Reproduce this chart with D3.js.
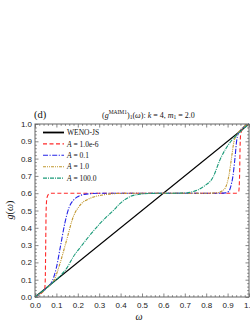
<!DOCTYPE html>
<html><head><meta charset="utf-8">
<script src="https://cdn.jsdelivr.net/npm/d3@7"></script>
<style>body{margin:0;background:#fff}svg{display:block}</style>
</head><body>
<svg id="c" width="250" height="324"></svg>
<script>
// ---- data ----
const xTicks = [0,0.1,0.2,0.3,0.4,0.5,0.6,0.7,0.8,0.9,1.0];
const yTicks = [0,0.1,0.2,0.3,0.4,0.5,0.6,0.7,0.8,0.9,1.0];
const seriesNames = ["WENO-JS","A = 1.0e-6","A = 0.1","A = 1.0","A = 100.0"];

const wenoW = [0, 1];
const wenoG = [0, 1];

const a1e6W = [0, 0.045, 0.048, 0.05, 0.052, 0.056, 0.065, 0.08, 0.2, 0.5, 0.8, 0.94, 0.952, 0.956, 0.958, 0.961, 0.966, 0.975, 1.0];
const a1e6G = [0, 0.045, 0.1, 0.3, 0.5, 0.575, 0.595, 0.6, 0.6, 0.6, 0.6, 0.6, 0.61, 0.7, 0.85, 0.94, 0.962, 0.975, 1.0];

const a01W = [0, 0.06, 0.08, 0.1, 0.12, 0.14, 0.16, 0.18, 0.2, 0.23, 0.27, 0.32, 0.5, 0.85, 0.89, 0.905, 0.915, 0.925, 0.935, 0.942, 0.95, 1.0];
const a01G = [0, 0.06, 0.09, 0.17, 0.3, 0.43, 0.52, 0.56, 0.58, 0.593, 0.598, 0.6, 0.6, 0.6, 0.602, 0.61, 0.64, 0.7, 0.81, 0.9, 0.945, 1.0];

const a1W = [0, 0.07, 0.09, 0.117, 0.148, 0.179, 0.21, 0.257, 0.318, 0.38, 0.5, 0.8, 0.85, 0.87, 0.888, 0.908, 0.919, 0.93, 0.945, 1.0];
const a1G = [0, 0.07, 0.1, 0.195, 0.33, 0.464, 0.53, 0.57, 0.59, 0.598, 0.6, 0.6, 0.602, 0.61, 0.628, 0.715, 0.81, 0.9, 0.94, 1.0];

const a100W = [0, 0.09, 0.12, 0.15, 0.179, 0.22, 0.257, 0.3, 0.335, 0.37, 0.397, 0.444, 0.49, 0.55, 0.65, 0.7, 0.74, 0.787, 0.833, 0.864, 0.888, 0.919, 0.95, 1.0];
const a100G = [0, 0.09, 0.125, 0.17, 0.233, 0.3, 0.358, 0.42, 0.464, 0.505, 0.54, 0.58, 0.594, 0.599, 0.6, 0.601, 0.61, 0.638, 0.695, 0.792, 0.85, 0.905, 0.945, 1.0];

// ---- layout ----
const L = 35, R = 249, T = 124, B = 297;
const svg = d3.select("#c");
const x = d3.scaleLinear().domain([0,1]).range([L,R]);
const y = d3.scaleLinear().domain([0,1]).range([B,T]);

const series = [
  {w: wenoW, g: wenoG, color: "#000000", dash: null, width: 1.1},
  {w: a1e6W, g: a1e6G, color: "#ff2a2a", dash: "4,2.5", width: 1.1},
  {w: a01W,  g: a01G,  color: "#2323e8", dash: "5,1.5,1.2,1.5", width: 1.1},
  {w: a1W,   g: a1G,   color: "#c0962c", dash: "3,1,1,1,1,1", width: 1.1},
  {w: a100W, g: a100G, color: "#1a9a78", dash: "4,1,1,1", width: 1.1}
];

// minor ticks
const minor = d3.range(0, 1.0001, 0.02).filter(v => Math.abs(v*10 - Math.round(v*10)) > 1e-6);
function tickAxis(gen, tr, vals, size, labels) {
  const a = gen.tickValues(vals).tickSizeInner(size).tickSizeOuter(0);
  if (!labels) a.tickFormat("");
  else a.tickFormat(d3.format(".1f")).tickPadding(3);
  const g = svg.append("g").attr("transform", tr).call(a);
  g.select(".domain").remove();
  g.selectAll("line").attr("stroke", "#555").attr("stroke-width", 0.7);
  g.selectAll("text").attr("font-family", "Liberation Sans, Arial, sans-serif").attr("font-size", 8).attr("fill", "#222");
  return g;
}
// bottom (labels), top, left (labels), right
const bx = tickAxis(d3.axisBottom(x), `translate(0,${B})`, xTicks, -3.5, true);
bx.selectAll("text").attr("dy", "0.95em");
tickAxis(d3.axisBottom(x), `translate(0,${B})`, minor, -1.8, false);
tickAxis(d3.axisTop(x), `translate(0,${T})`, xTicks, -3.5, false);
tickAxis(d3.axisTop(x), `translate(0,${T})`, minor, -1.8, false);
const ly = tickAxis(d3.axisLeft(y), `translate(${L},0)`, yTicks, -3.5, true);
tickAxis(d3.axisLeft(y), `translate(${L},0)`, minor, -1.8, false);
tickAxis(d3.axisRight(y), `translate(${R},0)`, yTicks, -3.5, false);
tickAxis(d3.axisRight(y), `translate(${R},0)`, minor, -1.8, false);

// curves
const line = d3.line().curve(d3.curveMonotoneX);
series.forEach(s => {
  const pts = s.w.map((w,i) => [x(w), y(s.g[i])]);
  svg.append("path").attr("d", line(pts)).attr("fill","none")
    .attr("stroke", s.color).attr("stroke-width", s.width)
    .attr("stroke-dasharray", s.dash);
});

// frame
svg.append("rect").attr("x", L).attr("y", T).attr("width", R-L).attr("height", B-T)
  .attr("fill","none").attr("stroke","#666").attr("stroke-width",1);

// legend
const legY0 = 132.5, legDy = 11.4;
series.forEach((s,i) => {
  const yy = legY0 + i*legDy;
  svg.append("line").attr("x1",43).attr("x2",64).attr("y1",yy).attr("y2",yy)
    .attr("stroke", s.color).attr("stroke-width", i===0 ? 1.8 : 1.1).attr("stroke-dasharray", s.dash);
  const t = svg.append("text").attr("x",67).attr("y",yy+2.6)
    .attr("font-family","Liberation Serif, Times New Roman, serif").attr("font-size",7.5).attr("fill","#111");
  if (i===0) t.text(seriesNames[0]);
  else {
    t.append("tspan").attr("font-style","italic").text("A");
    t.append("tspan").text(seriesNames[i].slice(1));
  }
});

// title
const serif = "Liberation Serif, Times New Roman, serif";
svg.append("text").attr("x",34).attr("y",117.5).attr("font-family",serif).attr("font-size",10.5).attr("fill","#111").text("(d)");
const tt = svg.append("text").attr("x",102).attr("y",117.5).attr("font-family",serif).attr("font-size",8).attr("fill","#111");
tt.append("tspan").text("(");
tt.append("tspan").attr("font-style","italic").text("g");
tt.append("tspan").attr("font-size",5.5).attr("dy",-3.5).text("MAIM1");
tt.append("tspan").attr("dy",3.5).text(")");
tt.append("tspan").attr("font-size",5.5).attr("dy",1.8).text("1");
tt.append("tspan").attr("dy",-1.8).text("(");
tt.append("tspan").attr("font-style","italic").text("ω");
tt.append("tspan").text("): ");
tt.append("tspan").attr("font-style","italic").text("k");
tt.append("tspan").text(" = 4, ");
tt.append("tspan").attr("font-style","italic").text("m");
tt.append("tspan").attr("font-size",5.5).attr("dy",1.8).text("1");
tt.append("tspan").attr("dy",-1.8).text(" = 2.0");

// axis labels
svg.append("text").attr("x",139).attr("y",320).attr("text-anchor","middle")
  .attr("font-family",serif).attr("font-style","italic").attr("font-size",10).attr("fill","#111").text("ω");
const yl = svg.append("text").attr("transform","translate(13,210) rotate(-90)").attr("text-anchor","middle")
  .attr("font-family",serif).attr("font-size",10).attr("fill","#111");
yl.append("tspan").attr("font-style","italic").text("g");
yl.append("tspan").text("(");
yl.append("tspan").attr("font-style","italic").text("ω");
yl.append("tspan").text(")");
</script>
</body></html>
